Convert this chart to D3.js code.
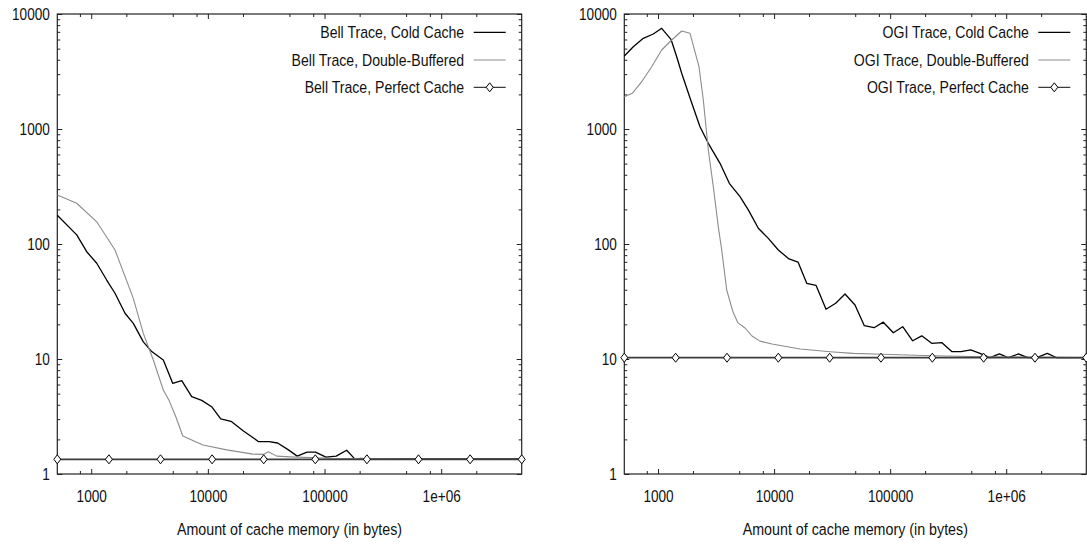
<!DOCTYPE html>
<html>
<head>
<meta charset="utf-8">
<script src="https://cdn.jsdelivr.net/npm/d3@7"></script>
<style>
  body { margin: 0; background: #fff; }
  text { font-family: "Liberation Sans", Arial, sans-serif; fill: #111; }
</style>
</head>
<body>
<svg id="chart" width="1087" height="544"></svg>
<script>
// ---- data (cache size in bytes, value) ----
const xTicks = [1000, 10000, 100000, 1000000];
const yTicks = [1, 10, 100, 1000, 10000];
const xTickLabels = ["1000", "10000", "100000", "1e+06"];
const yTickLabels = ["1", "10", "100", "1000", "10000"];

const bellLabels = ["Bell Trace, Cold Cache", "Bell Trace, Double-Buffered", "Bell Trace, Perfect Cache"];
const ogiLabels = ["OGI Trace, Cold Cache", "OGI Trace, Double-Buffered", "OGI Trace, Perfect Cache"];

const bellCold = [[512,178],[751,120],[915,85.7],[1115,68],[1357,48.6],[1599,37.3],[1948,25],[2295,20.4],
  [2797,14.1],[3301,11.6],[4150,9.8],[4995,6.15],[5968,6.48],[7270,4.7],[8856,4.37],[10852,3.82],[12886,3.01],
  [15789,2.87],[20052,2.38],[27227,1.91],[33437,1.91],[39620,1.86],[48641,1.63],[58333,1.43],[70778,1.55],
  [83715,1.55],[102778,1.4],[125950,1.43],[154700,1.61],[183320,1.34],[202700,1.37],[232300,1.35],
  [500000,1.35],[4900000,1.35]];
const bellDouble = [[512,267],[751,226],[1115,156],[1599,88.7],[2295,33.7],[2797,16.7],[3407,9.8],[4150,5.38],
  [4644,4.37],[5321,3.13],[6098,2.14],[7270,1.98],[9085,1.79],[14507,1.62],[24380,1.49],[29880,1.48],
  [32980,1.56],[38920,1.43],[50610,1.41],[111450,1.37],[443900,1.35],[4900000,1.345]];
const bellPerfect = [[512,1.342],[1418,1.342],[3926,1.342],[10873,1.342],[30106,1.342],[83357,1.342],
  [230830,1.342],[639000,1.342],[1770000,1.342],[4900000,1.342]];

const ogiCold = [[512,4313],[612,5196],[746,6147],[910,6700],[1075,7511],[1293,6025],[1448,4253],[1599,3050],
  [1912,1787],[2299,1047],[2711,751],[3420,503],[4113,337],[5085,258],[5995,198],[7311,137],[8916,112],
  [10873,88.7],[13445,74.1],[16075,69.7],[19100,45.5],[22970,43.7],[28020,27.1],[33950,30.5],[40840,36.7],
  [49800,29.5],[59900,19.5],[72610,18.7],[87330,20.9],[106500,16.9],[128300,19.1],[156400,14.4],[187100,15.9],
  [228100,13.7],[278200,13.9],[339300,11.6],[407900,11.6],[494600,12],[594900,11.2],[725300,10.26],
  [872000,11.06],[1043000,10.26],[1272000,11.06],[1532000,10.26],[1832000,10.3],[2261000,11.2],
  [2724000,10.26],[4900000,10.26]];
const ogiDouble = [[512,1909],[600,2044],[723,2578],[882,3481],[1075,4864],[1311,5941],[1599,7116],[1886,6795],
  [2254,3481],[2455,1787],[2711,657],[2994,315],[3306,141],[3537,88.7],[3906,39.8],[4426,25.6],[4888,20.6],
  [5616,18.6],[6451,15.85],[7559,14.3],[9594,13.5],[12666,12.85],[16722,12.2],[30330,11.58],[48150,11.2],
  [84590,10.99],[235400,10.68],[656900,10.47],[4900000,10.3]];
const ogiPerfect = [[512,10.26],[1418,10.26],[3926,10.26],[10873,10.26],[30106,10.26],[83357,10.26],
  [230830,10.26],[639000,10.26],[1770000,10.26],[4900000,10.26]];

// ---- layout ----
const marginTop = 14, height = 460;
const panels = [
  { left: 57.3, width: 464.4, series: [bellCold, bellDouble, bellPerfect], labels: bellLabels },
  { left: 624.3, width: 462, series: [ogiCold, ogiDouble, ogiPerfect], labels: ogiLabels }
];

const svg = d3.select("#chart");
const diamond = "M0,-4.5L3.5,0L0,4.5L-3.5,0Z";
const styles = [
  { stroke: "#000", width: 1.3 },
  { stroke: "#8c8c8c", width: 1.1 },
  { stroke: "#3c3c3c", width: 1.7 }
];

// minor ticks: x at 2,5,8 per decade, y at 2..9 per decade
const xMinor = [];
[100, 1000, 10000, 100000, 1000000].forEach(b => [2, 5, 8].forEach(m => xMinor.push(b * m)));
const yMinor = [];
[1, 10, 100, 1000].forEach(b => d3.range(2, 10).forEach(m => yMinor.push(b * m)));

panels.forEach(p => {
  const g = svg.append("g").attr("transform", `translate(${p.left},${marginTop})`);

  const x = d3.scaleLog().domain([512, 4900000]).range([0, p.width]);
  const y = d3.scaleLog().domain([1, 10000]).range([height, 0]);
  const xMin = xMinor.filter(v => v >= 512 && v <= 4900000);

  const noDomain = s => s.select(".domain").remove();

  // bottom axis
  const bottom = g.append("g")
      .attr("transform", `translate(0,${height})`)
      .attr("color", "#222")
      .call(d3.axisBottom(x).tickValues(xTicks)
        .tickFormat((d, i) => xTickLabels[i])
        .tickSizeInner(-5).tickSizeOuter(0).tickPadding(16))
      .call(noDomain)
      .attr("font-size", 17)
      .attr("font-family", null);
  bottom.selectAll(".tick text").attr("transform", "scale(0.8,1)");
  g.append("g")
      .attr("transform", `translate(0,${height})`)
      .attr("color", "#222")
      .call(d3.axisBottom(x).tickValues(xMin).tickFormat("").tickSizeInner(-3).tickSizeOuter(0))
      .call(noDomain);

  // top axis (mirror ticks)
  g.append("g").attr("color", "#222")
      .call(d3.axisTop(x).tickValues(xTicks).tickFormat("").tickSizeInner(-5).tickSizeOuter(0))
      .call(noDomain);
  g.append("g").attr("color", "#222")
      .call(d3.axisTop(x).tickValues(xMin).tickFormat("").tickSizeInner(-3).tickSizeOuter(0))
      .call(noDomain);

  // left axis
  const left = g.append("g").attr("color", "#222")
      .call(d3.axisLeft(y).tickValues(yTicks)
        .tickFormat((d, i) => yTickLabels[i])
        .tickSizeInner(-5).tickSizeOuter(0).tickPadding(7.5))
      .call(noDomain)
      .attr("font-size", 17)
      .attr("font-family", null);
  left.selectAll(".tick text").attr("x", -7.5 / 0.8).attr("transform", "scale(0.8,1)");
  g.append("g").attr("color", "#222")
      .call(d3.axisLeft(y).tickValues(yMinor).tickFormat("").tickSizeInner(-3).tickSizeOuter(0))
      .call(noDomain);

  // right axis (mirror ticks)
  g.append("g").attr("transform", `translate(${p.width},0)`).attr("color", "#222")
      .call(d3.axisRight(y).tickValues(yTicks).tickFormat("").tickSizeInner(-5).tickSizeOuter(0))
      .call(noDomain);
  g.append("g").attr("transform", `translate(${p.width},0)`).attr("color", "#222")
      .call(d3.axisRight(y).tickValues(yMinor).tickFormat("").tickSizeInner(-3).tickSizeOuter(0))
      .call(noDomain);

  // frame
  g.append("rect")
      .attr("width", p.width).attr("height", height)
      .attr("fill", "none").attr("stroke", "#222").attr("stroke-width", 1.2);

  // curves
  const line = d3.line().x(d => x(d[0])).y(d => y(d[1]));
  p.series.forEach((s, i) => {
    g.append("path").datum(s)
        .attr("d", line)
        .attr("fill", "none")
        .attr("stroke", styles[i].stroke)
        .attr("stroke-width", styles[i].width)
        .attr("stroke-linejoin", "round");
  });
  // perfect cache points
  g.selectAll(".pt").data(p.series[2]).join("path")
      .attr("class", "pt")
      .attr("d", diamond)
      .attr("transform", d => `translate(${x(d[0])},${y(d[1])})`)
      .attr("fill", "#fff").attr("stroke", "#000").attr("stroke-width", 1);

  // legend
  const rows = [18.3, 46, 73.3];
  p.labels.forEach((lab, i) => {
    const row = g.append("g").attr("transform", `translate(0,${rows[i]})`);
    row.append("text")
        .attr("transform", `translate(${p.width - 57.5},5.8) scale(0.88,1)`)
        .attr("text-anchor", "end")
        .attr("font-size", 16)
        .text(lab);
    row.append("line")
        .attr("x1", p.width - 48).attr("x2", p.width - 16)
        .attr("stroke", styles[i].stroke)
        .attr("stroke-width", i === 1 ? 1 : 1.3);
    if (i === 2) {
      row.append("path").attr("d", diamond)
          .attr("transform", `translate(${p.width - 32},0)`)
          .attr("fill", "#fff").attr("stroke", "#000");
    }
  });

  // x-axis title
  g.append("text")
      .attr("transform", `translate(${p.width / 2},${height + 61}) scale(0.84,1)`)
      .attr("text-anchor", "middle")
      .attr("font-size", 17)
      .text("Amount of cache memory (in bytes)");
});
</script>
</body>
</html>
